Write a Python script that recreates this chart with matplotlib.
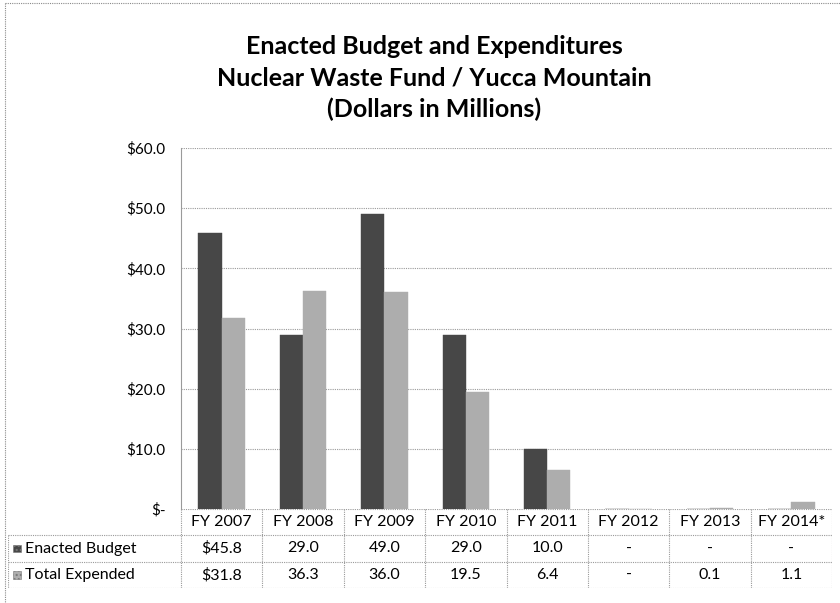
import numpy as np
import matplotlib
matplotlib.use("Agg")
from matplotlib import pyplot as plt
from matplotlib.patches import Rectangle
from matplotlib.lines import Line2D

plt.rcParams['font.family'] = ['Lato', 'DejaVu Sans']

years = ["FY 2007", "FY 2008", "FY 2009", "FY 2010", "FY 2011", "FY 2012", "FY 2013", "FY 2014*"]
enacted = [45.8, 29.0, 49.0, 29.0, 10.0, 0.0, 0.0, 0.0]
expended = [31.8, 36.3, 36.0, 19.5, 6.4, 0.0, 0.1, 1.1]
enacted_labels = ["$45.8", "29.0", "49.0", "29.0", "10.0", "-", "-", "-"]
expended_labels = ["$31.8", "36.3", "36.0", "19.5", "6.4", "-", "0.1", "1.1"]
series_names = ["Enacted Budget", "Total Expended"]
yticks = [0, 10, 20, 30, 40, 50, 60]
ytick_labels = ["$-", "$10.0", "$20.0", "$30.0", "$40.0", "$50.0", "$60.0"]
title = "Enacted Budget and Expenditures\nNuclear Waste Fund / Yucca Mountain\n(Dollars in Millions)"

dark = "#474747"
light = "#adadad"
grid_c = "#9a9a9a"

W, H = 840, 603
fig = plt.figure(figsize=(W / 100, H / 100), dpi=100)


def fx(px):
    return px / W


def fy(py):
    return 1 - py / H


# outer frame of the chart object
fig.add_artist(Line2D([fx(5), fx(5)], [fy(3), 0], color="#8a8a8a", lw=0.8, ls=(0, (1, 1))))
fig.add_artist(Line2D([fx(5), 1], [fy(3), fy(3)], color="#8a8a8a", lw=0.8, ls=(0, (1, 1))))

fig.text(fx(434), fy(78), title, ha="center", va="center", fontsize=18,
         fontweight="bold", linespacing=1.45)

# main bar area
ax = fig.add_axes([fx(181), fy(509), fx(832) - fx(181), fy(148) - fy(509)])
x = np.arange(len(years))
bw = 0.285
ax.bar(x - bw / 2, enacted, bw, color=dark, edgecolor=dark, lw=0.3, zorder=3)
ax.bar(x + bw / 2, expended, bw, color=light, edgecolor=light, lw=0.3, zorder=3)
ax.set_xlim(-0.5, len(years) - 0.5)
ax.set_ylim(0, 60)
ax.set_yticks(yticks)
ax.set_yticklabels(ytick_labels, fontsize=11)
ax.tick_params(axis="y", length=0, pad=11)
ax.set_xticks([])
for v in yticks[1:]:
    ax.axhline(v, color=grid_c, lw=0.8, ls=(0, (1, 1)), zorder=1)
for s in ["top", "right", "bottom"]:
    ax.spines[s].set_visible(False)
ax.spines["left"].set_color(grid_c)
ax.spines["left"].set_linestyle((0, (1, 1)))
ax.spines["left"].set_linewidth(0.8)

# data table below the axis
tax = fig.add_axes([fx(8), fy(588), fx(832) - fx(8), fy(509) - fy(588)])
left_edge = -0.5 - (181 - 8) / ((832 - 181) / len(years))
tax.set_xlim(left_edge, len(years) - 0.5)
tax.set_ylim(3, 0)
tax.axis("off")
line_kw = dict(color=grid_c, lw=0.8, ls=(0, (1, 1)))
tax.plot([-0.5, len(years) - 0.5], [0, 0], **line_kw)
for r in [1, 2, 3]:
    tax.plot([left_edge, len(years) - 0.5], [r, r], **line_kw)
for c in range(len(years) + 1):
    tax.plot([c - 0.5, c - 0.5], [0, 3], **line_kw)
tax.plot([left_edge, left_edge], [1, 3], **line_kw)

fs = 11.5
for i, yr in enumerate(years):
    tax.text(i, 0.5, yr, ha="center", va="center", fontsize=fs)
    tax.text(i, 1.5, enacted_labels[i], ha="center", va="center", fontsize=fs)
    tax.text(i, 2.5, expended_labels[i], ha="center", va="center", fontsize=fs)

for r, (name, col) in enumerate(zip(series_names, [dark, light])):
    tax.add_patch(Rectangle((left_edge + 0.06, r + 1.35), 0.1, 0.3, facecolor=col,
                            edgecolor="#777777", lw=0.4, hatch="....", clip_on=False))
    tax.text(left_edge + 0.21, r + 1.5, name, ha="left", va="center", fontsize=fs)

fig.savefig("out.png", dpi=100)
